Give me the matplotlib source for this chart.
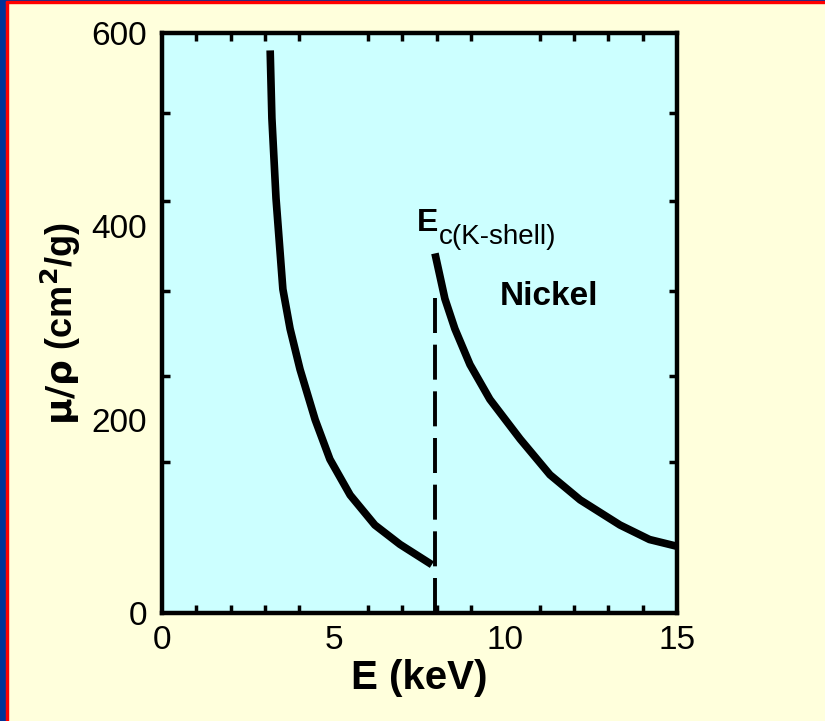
import matplotlib
matplotlib.use("Agg")
import matplotlib.pyplot as plt
from matplotlib.patches import Rectangle

plt.rcParams['font.family'] = ['Liberation Sans', 'DejaVu Sans']

# Data
E_low = [3.15, 3.2, 3.32, 3.52, 3.73, 4.02, 4.46, 4.89, 5.48, 6.2, 6.93, 7.86]
mu_low = [582, 512, 429, 335, 294, 252, 200, 159, 122, 91, 71, 50]
E_high = [7.95, 8.24, 8.53, 8.97, 9.55, 10.43, 11.3, 12.18, 13.34, 14.2, 15.0]
mu_high = [372, 325, 294, 257, 221, 180, 143, 117, 91, 76, 69]
edge_E = 7.95
edge_top = 330

x_major = [0, 5, 10, 15]
x_minor = [1, 2, 3, 4, 5, 6, 7, 8, 9, 10, 11, 12, 13, 14]
y_major = [0, 200, 400, 600]
y_minor = [156, 245, 333, 426, 517]

bg = '#FFFFDC'
face = '#CCFFFF'

fig = plt.figure(figsize=(8.25, 7.21), dpi=100, facecolor=bg)
ax = fig.add_axes([0.1964, 0.1498, 0.6242, 0.8044], facecolor=face)

ax.plot(E_low, mu_low, color='black', lw=5.5, solid_joinstyle='round', solid_capstyle='butt')
ax.plot(E_high, mu_high, color='black', lw=5.5, solid_joinstyle='round', solid_capstyle='butt')
ax.plot([edge_E, edge_E], [0, edge_top], color='black', lw=2.8, dashes=(9, 3))

ax.set_xlim(0, 15)
ax.set_ylim(0, 600)

ax.set_xticks(x_major)
ax.set_xticks(x_minor, minor=True)
ax.set_yticks(y_major)
ax.set_yticks(y_minor, minor=True)
ax.set_xticklabels([str(v) for v in x_major], fontsize=24)
ax.set_yticklabels([str(v) for v in y_major], fontsize=24)

ax.tick_params(which='major', length=0, pad=11)
ax.tick_params(axis='x', which='major', pad=9)
ax.tick_params(which='minor', direction='in', length=6, width=2.5,
               top=True, right=True, bottom=True, left=True)
for s in ax.spines.values():
    s.set_linewidth(3.2)

ax.set_xlabel('E (keV)', fontsize=29, fontweight='bold', labelpad=2)
ax.set_ylabel(r'$\mathbf{\mu/\rho}$ (cm$^{\mathbf{2}}$/g)', fontsize=26, fontweight='bold', labelpad=6)

ax.text(7.42, 395, r'E', fontsize=23, fontweight='bold', ha='left', va='baseline')
ax.text(8.05, 382, 'c(K-shell)', fontsize=20, ha='left', va='baseline')
ax.text(9.85, 327, 'Nickel', fontsize=24, fontweight='bold', ha='left', va='center')

# frame decoration: blue and red edges
fig.patches.append(Rectangle((0, 0), 6/825, 1, transform=fig.transFigure, color='#003399', zorder=-1))
fig.patches.append(Rectangle((6/825, 0), 2/825, 1, transform=fig.transFigure, color='#FF0000', zorder=-1))
fig.patches.append(Rectangle((0, 1 - 1/721), 1, 1/721, transform=fig.transFigure, color='#003399', zorder=-1))
fig.patches.append(Rectangle((6/825, 1 - 3/721), 1, 2/721, transform=fig.transFigure, color='#FF0000', zorder=-1))

fig.savefig('out.png', dpi=100, facecolor=bg)
